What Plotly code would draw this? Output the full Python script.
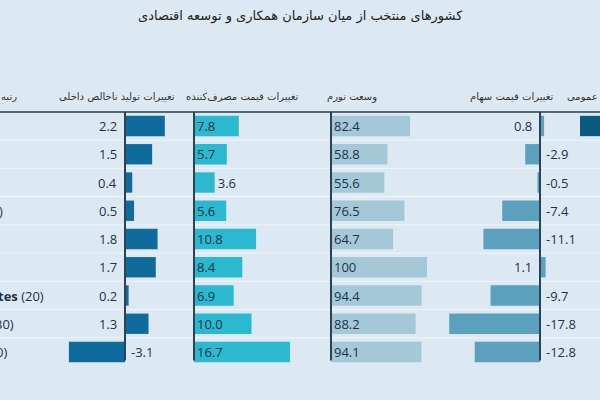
import plotly.graph_objects as go

# data
title_text = "کشورهای منتخب از میان سازمان همکاری و توسعه اقتصادی"
headers = ["رتبه", "تغییرات تولید ناخالص داخلی", "تغییرات قیمت مصرف‌کننده",
           "وسعت تورم", "تغییرات قیمت سهام", "عمومی"]
row_labels = ["", "", "", ")", "", "", "<b>tes</b> (20)", "30)", "0)"]
gdp_change = [2.2, 1.5, 0.4, 0.5, 1.8, 1.7, 0.2, 1.3, -3.1]
cpi_change = [7.8, 5.7, 3.6, 5.6, 10.8, 8.4, 6.9, 10.0, 16.7]
inflation_breadth = [82.4, 58.8, 55.6, 76.5, 64.7, 100, 94.4, 88.2, 94.1]
stock_change = [0.8, -2.9, -0.5, -7.4, -11.1, 1.1, -9.7, -17.8, -12.8]
public_debt = [2.0, None, None, None, None, None, None, None, None]

W, H = 600, 400
BG = "#dde9f2"
AXIS = "#2c4356"
TXT = "#1e3346"
NUM_FONT = "Open Sans"
FA_FONT = "DejaVu Sans"

rows = list(range(len(gdp_change)))
row0, pitch = 126, 28.25
ytop, ybot = (0 - row0) / pitch, (H - row0) / pitch


def fmt(v):
    return "100" if v == 100 else f"{v:.1f}"


# (values, colour, domain px left, domain px right, zero px, px per unit, label style)
columns = [
    (gdp_change, "#0f6b9c", 50, 185, 125, 18.1, "split"),
    (cpi_change, "#2ab9cf", 186, 320, 194, 5.75, "inside"),
    (inflation_breadth, "#a5c8d9", 321, 440, 331, 0.96, "inside"),
    (stock_change, "#5ba1bd", 441, 565, 540, 5.1, "split"),
    (public_debt, "#0b5a82", 566, 600, 580, 10.0, "none"),
]

fig = go.Figure()
annotations = []
shapes = []

for k, (vals, col, a, b, z, s, style) in enumerate(columns):
    ax = "x" if k == 0 else f"x{k + 1}"
    axname = "xaxis" if k == 0 else f"xaxis{k + 1}"
    tr = dict(x=vals, y=rows, orientation="h", marker=dict(color=col, line_width=0),
              width=0.72, xaxis=ax, yaxis="y", showlegend=False, hoverinfo="x")
    if style == "inside":
        tr["text"] = [fmt(v) for v in vals]
        tr["textposition"] = ["outside" if v < 5 else "inside" for v in vals]
        tr["insidetextanchor"] = "start"
        tr["textfont"] = dict(family=NUM_FONT, size=13, color=TXT)
        tr["cliponaxis"] = False
        tr["constraintext"] = "none"
    fig.add_trace(go.Bar(**tr))
    fig.update_layout({axname: dict(domain=[a / W, b / W], range=[(a - z) / s, (b - z) / s],
                                    visible=False, fixedrange=True)})
    if style == "split":
        for r, v in zip(rows, vals):
            annotations.append(dict(x=0, y=r, xref=ax, yref="y", text=fmt(v),
                                    xanchor="right" if v > 0 else "left",
                                    xshift=-6 if v > 0 else 4, showarrow=False,
                                    font=dict(family=NUM_FONT, size=13, color=TXT)))
    if style != "none":
        shapes.append(dict(type="line", xref=ax, yref="y", x0=0, x1=0, y0=-0.5, y1=8.3,
                           line=dict(color=AXIS, width=2)))

# row separators and header rule
for r in rows[:-1]:
    shapes.append(dict(type="line", xref="paper", yref="y", x0=0, x1=1, y0=r + 0.5, y1=r + 0.5,
                       line=dict(color="#f0f5f9", width=1), layer="below"))
shapes.append(dict(type="line", xref="paper", yref="y", x0=0, x1=1, y0=-0.5, y1=-0.5,
                   line=dict(color="#2e3e4c", width=1.5)))

# truncated row labels on the left edge
label_right = [0, 0, 0, 5, 0, 0, 46, 16, 9]
for r, t, xr in zip(rows, row_labels, label_right):
    if t:
        annotations.append(dict(x=xr / W, y=r, xref="paper", yref="y", text=t, xanchor="right",
                                showarrow=False, font=dict(family=NUM_FONT, size=13, color=TXT)))

# header texts
header_x = [9, 117, 242, 352, 512, 582]
for t, hx in zip(headers, header_x):
    annotations.append(dict(x=hx / W, y=1 - 97 / H, xref="paper", yref="paper", text=t,
                            showarrow=False, xanchor="center", yanchor="middle",
                            font=dict(family=FA_FONT, size=10, color="#333333")))

annotations.append(dict(x=0.5, y=1 - 16 / H, xref="paper", yref="paper", text=title_text,
                        showarrow=False, yanchor="middle",
                        font=dict(family=FA_FONT, size=13, color="#222222")))

fig.update_layout(
    width=W, height=H,
    margin=dict(l=0, r=0, t=0, b=0),
    paper_bgcolor=BG, plot_bgcolor=BG,
    yaxis=dict(range=[ybot, ytop], visible=False, fixedrange=True),
    bargap=0.2,
    annotations=annotations,
    shapes=shapes,
)

fig.write_html("out.html", config={"displayModeBar": False},
               post_script="document.body.style.margin='0';"
               "document.body.style.overflow='hidden';")
